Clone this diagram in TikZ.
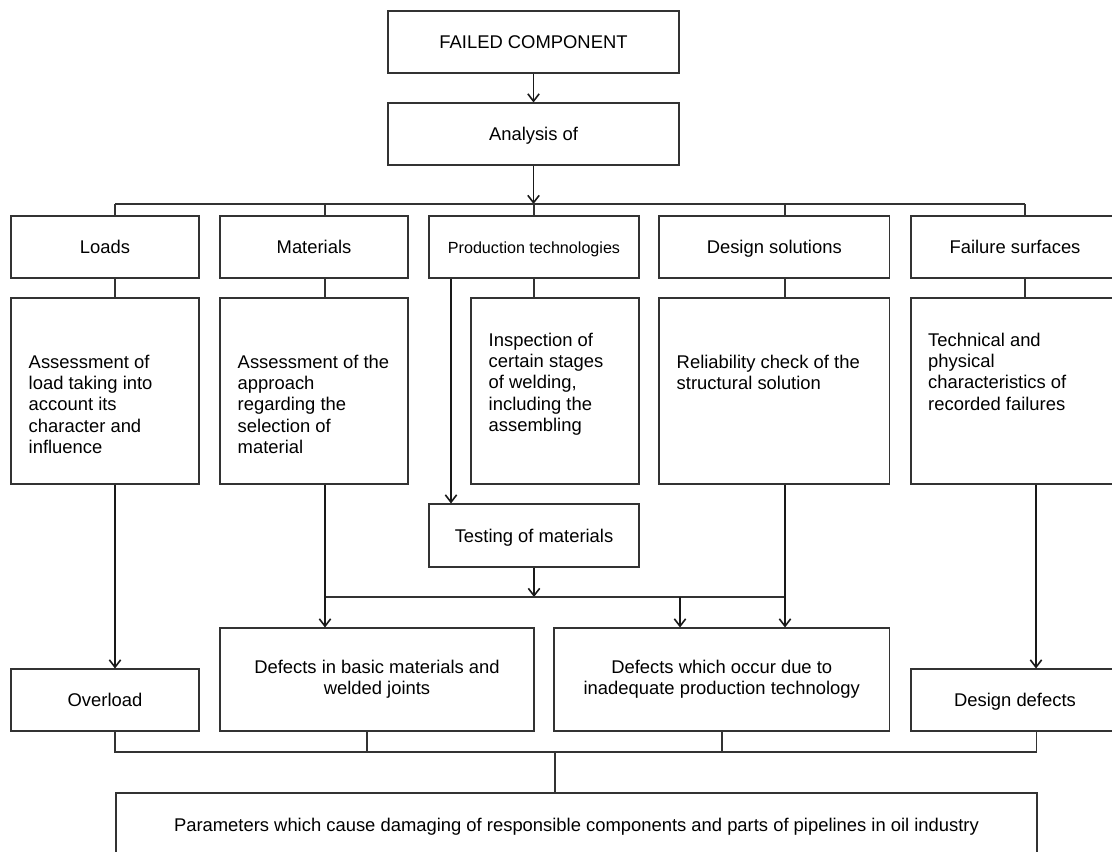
\documentclass[tikz,border=0pt]{standalone}
\usepackage{fontspec}
\setmainfont{Liberation Sans}
\usetikzlibrary{arrows.meta,calc}
\tikzset{
  > = {Straight Barb[length=5.5pt,width=8.5pt]},
  box/.style = {draw=black!80, line width=0.8pt, inner sep=0pt, font=\fontsize{13.8}{16}\selectfont},
  oneline/.style = {text height=11.5pt, text depth=1.6pt},
  wh/.style 2 args = {minimum width=#1*0.75pt, minimum height=#2*0.75pt},
  txt/.style = {inner sep=0pt, align=left, anchor=north west, font=\fontsize{13.8}{16}\selectfont},
  link/.style = {draw=black!80, line width=0.8pt},
  flow/.style = {->, draw=black!90, line width=1.2pt},
}

\begin{document}
\begin{tikzpicture}[x=0.75pt, y=-0.75pt]

  \clip (0,0) rectangle (1112,851);

  %% top of the chart
  \node[box, oneline, wh={291}{62}] (failed) at (533.5,42) {FAILED COMPONENT};
  \node[box, oneline, wh={291}{62}] (analysis) at (533.5,134) {Analysis of};

  %% first row
  \node[box, oneline, wh={188}{62}] (loads) at (105,247) {Loads};
  \node[box, oneline, wh={188}{62}] (materials) at (314,247) {Materials};
  \node[box, oneline, wh={210}{62}, font=\fontsize{12.1}{14}\selectfont] (prod) at (534,247) {Production technologies};
  \node[box, oneline, wh={230.5}{62}] (design) at (774.25,247) {Design solutions};
  \node[box, oneline, wh={208}{62}] (failure) at (1015,247) {Failure surfaces};

  %% second row
  \node[box, wh={188}{186}] (loadsA) at (105,391) {};
  \node[box, wh={188}{186}] (materialsA) at (314,391) {};
  \node[box, wh={168}{186}] (inspect) at (555,391) {};
  \node[box, wh={230.5}{186}] (designA) at (774.25,391) {};
  \node[box, wh={208}{186}] (failureA) at (1015,391) {};

  \node[txt] (loadsT) at ($(loadsA.north west)+(18,57)$) {Assessment of\\load taking into\\account its\\character and\\influence};
  \node[txt] (materialsT) at ($(materialsA.north west)+(18,57)$) {Assessment of the\\approach\\regarding the\\selection of\\material};
  \node[txt] (inspectT) at ($(inspect.north west)+(18,35)$) {Inspection of\\certain stages\\of welding,\\including the\\assembling};
  \node[txt] (designT) at ($(designA.north west)+(18,57)$) {Reliability check of the\\structural solution};
  \node[txt] (failureT) at ($(failureA.north west)+(17.5,35)$) {Technical and\\physical\\characteristics of\\recorded failures};

  \node[box, oneline, wh={210}{63}] (testing) at (534,535.5) {Testing of materials};

  %% results
  \node[box, oneline, wh={188}{62}] (overload) at (105,700) {Overload};
  \node[box, wh={314}{103}, align=center] (defBasic) at (377,679.5) {Defects in basic materials and\\welded joints};
  \node[box, wh={335.5}{103}, align=center] (defProd) at (721.75,679.5) {Defects which occur due to\\inadequate production technology};
  \node[box, oneline, wh={208}{62}] (designDef) at (1015,700) {Design defects};
  \node[box, oneline, wh={921}{64}] (params) at (576.5,825) {Parameters which cause damaging of responsible components and parts of pipelines in oil industry};

  %% bus coordinates
  \coordinate (dLoads) at (115,204);
  \coordinate (dMat) at (325,204);
  \coordinate (dProd) at (534,204);
  \coordinate (dDesign) at (785,204);
  \coordinate (dFail) at (1025,204);
  \coordinate (dTest) at (451,204);
  \coordinate (dMid) at (680,597);
  \coordinate (dDef) at (1036,204);
  \coordinate (bus2L) at (325,597);
  \coordinate (bus3L) at (115,752);
  \coordinate (bus3R) at (1036.5,752);

  % analysis down to the bus
  \draw[flow] (failed) -- (analysis);
  \draw[flow] (analysis) -- (analysis |- dLoads);
  \draw[link] (dLoads) -- (dFail);

  % bus to the first row and on to the second row
  \foreach \n/\d in {loads/dLoads, materials/dMat, prod/dProd, design/dDesign, failure/dFail}
    \draw[link] (\d) -- (\d |- \n.north);
  \draw[link] (dLoads |- loads.south) -- (dLoads |- loadsA.north);
  \draw[link] (dMat |- materials.south) -- (dMat |- materialsA.north);
  \draw[link] (dProd |- prod.south) -- (dProd |- inspect.north);
  \draw[link] (dDesign |- design.south) -- (dDesign |- designA.north);
  \draw[link] (dFail |- failure.south) -- (dFail |- failureA.north);

  % testing of materials
  \draw[flow] (dTest |- prod.south) -- (dTest |- testing.north);
  \draw[flow] (dProd |- testing.south) -- (dProd |- bus2L);
  \draw[link] (bus2L) -- (dDesign |- bus2L);

  % arrows to the results
  \draw[flow] (dLoads |- loadsA.south) -- (dLoads |- overload.north);
  \draw[flow] (dMat |- materialsA.south) -- (dMat |- defBasic.north);
  \draw[flow] (dMid) -- (dMid |- defProd.north);
  \draw[flow] (dDesign |- designA.south) -- (dDesign |- defProd.north);
  \draw[flow] (dDef |- failureA.south) -- (dDef |- designDef.north);

  % results down to the parameters
  \draw[link] (dLoads |- overload.south) -- (bus3L) -- (bus3R) -- (bus3R |- designDef.south);
  \draw[link] (367,752) -- (367,752 |- defBasic.south);
  \draw[link] (722,752) -- (722,752 |- defProd.south);
  \draw[link] (params.north -| 555,0) -- (555,752);

\end{tikzpicture}
\end{document}
